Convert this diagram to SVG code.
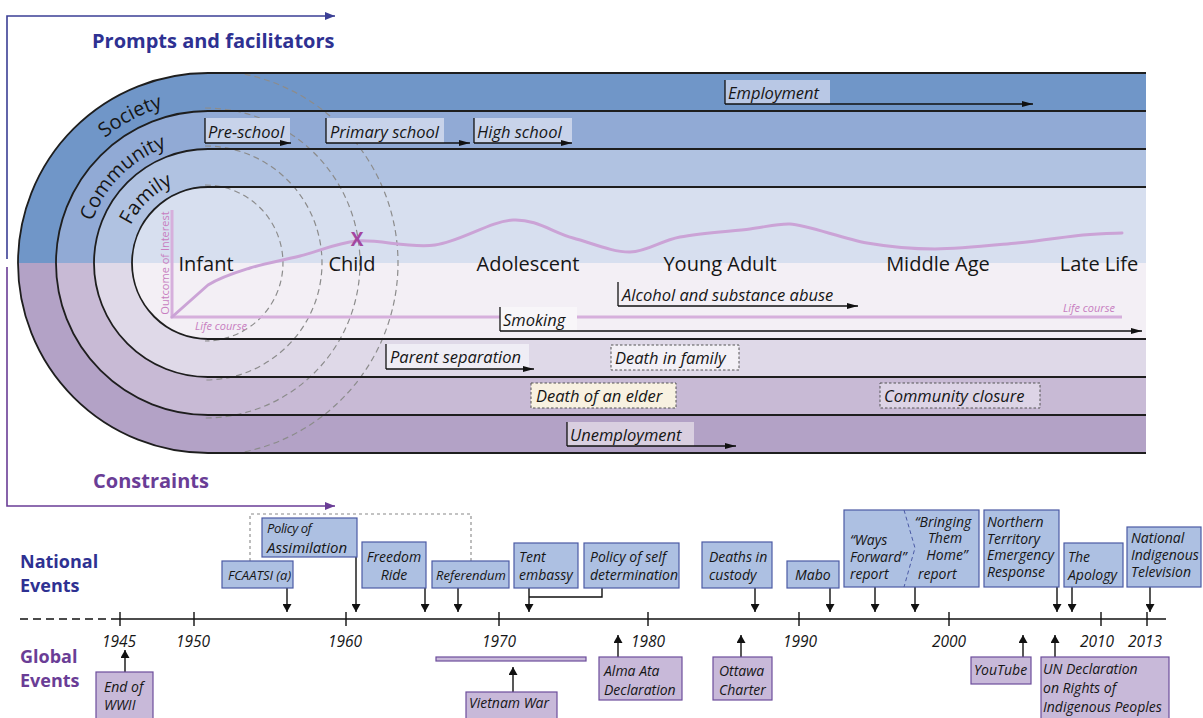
<svg xmlns="http://www.w3.org/2000/svg" width="1203" height="718" viewBox="0 0 1203 718">
<style>
text{font-family:"Open Sans","Noto Sans","DejaVu Sans",sans-serif;fill:#161616}
.ev{font-style:italic;font-size:16.5px}
.tl{font-style:italic;font-size:14px}
.yr{font-style:italic;font-size:15.5px}
.st{font-size:20px}
.rg{font-size:20px}
.hd{font-weight:bold;font-size:20px}
.sd{font-weight:bold;font-size:18px}
.nb{fill:#adc0e2;stroke:#4b5aa5;stroke-width:1.2}
.gb{fill:#c8b9d9;stroke:#6d4d9c;stroke-width:1.2}
.ar{stroke:#111;stroke-width:1.4;fill:none;marker-end:url(#ta)}
.ba{stroke:#111;stroke-width:1.3;fill:none;marker-end:url(#bh)}
.bl{stroke:#111;stroke-width:1.3;fill:none}
.ring{fill:none;stroke:#1e1e1e;stroke-width:1.8}
.dsh{fill:none;stroke:#8c8c8c;stroke-width:1.2;stroke-dasharray:6 4}
.db{stroke:#555;stroke-width:1;stroke-dasharray:2.5 2}
.pk{fill:#c77dc0;font-size:11px}
</style>
<defs>
<marker id="ta" viewBox="0 0 8 9" refX="8" refY="4.5" markerWidth="8" markerHeight="9" markerUnits="userSpaceOnUse" orient="auto"><path d="M0,0 L8,4.5 L0,9 Z" fill="#111"/></marker>
<marker id="bh" viewBox="0 0 11 6" refX="11" refY="3" markerWidth="11" markerHeight="6" markerUnits="userSpaceOnUse" orient="auto"><path d="M0,0 L11,3 L0,6 Z" fill="#111"/></marker>
<marker id="bluh" viewBox="0 0 10 8" refX="10" refY="4" markerWidth="10" markerHeight="8" markerUnits="userSpaceOnUse" orient="auto"><path d="M0,0 L10,4 L0,8 Z" fill="#3b3f95"/></marker>
<marker id="purh" viewBox="0 0 10 8" refX="10" refY="4" markerWidth="10" markerHeight="8" markerUnits="userSpaceOnUse" orient="auto"><path d="M0,0 L10,4 L0,8 Z" fill="#6a3d96"/></marker>
<clipPath id="stad"><path d="M1146,73 H208 A190 190 0 0 0 208,453 H1146 Z"/></clipPath>
<path id="arcS" d="M46,263 A162 162 0 0 1 208,101"/>
<path id="arcC" d="M85,263 A123 123 0 0 1 208,140"/>
<path id="arcF" d="M122,263 A86 86 0 0 1 208,177"/>
</defs>
<rect width="1203" height="718" fill="#fff"/>

<g id="frame-arrows">
<path d="M7,259 V16 H335" fill="none" stroke="#3b3f95" stroke-width="1.6" marker-end="url(#bluh)"/>
<path d="M7,267 V506 H335" fill="none" stroke="#6a3d96" stroke-width="1.6" marker-end="url(#purh)"/>
<text class="hd" x="92" y="48" style="fill:#2e3192">Prompts and facilitators</text>
<text class="hd" x="93" y="488" style="fill:#6a3d96">Constraints</text>
</g>

<g id="bands">
<path d="M1146,73 H208 A190 190 0 0 0 18,263 H1146 Z" fill="#7096c8"/>
<path d="M1146,111 H208 A152 152 0 0 0 56,263 H1146 Z" fill="#91aad5"/>
<path d="M1146,149 H208 A114 114 0 0 0 94,263 H1146 Z" fill="#b0c2e1"/>
<path d="M1146,187 H208 A76 76 0 0 0 132,263 H1146 Z" fill="#d7dfef"/>
<path d="M1146,263 H18 A190 190 0 0 0 208,453 H1146 Z" fill="#b3a2c6"/>
<path d="M1146,263 H56 A152 152 0 0 0 208,415 H1146 Z" fill="#c8bad5"/>
<path d="M1146,263 H94 A114 114 0 0 0 208,377 H1146 Z" fill="#dfd9e8"/>
<path d="M1146,263 H132 A76 76 0 0 0 208,339 H1146 Z" fill="#f3eff5"/>
<g clip-path="url(#stad)">
<path class="dsh" d="M205,185 A78 78 0 0 1 205,341"/>
<path class="dsh" d="M205,146 A117 117 0 0 1 205,380"/>
<path class="dsh" d="M205,108 A155 155 0 0 1 205,418"/>
<path class="dsh" d="M205,70 A193 193 0 0 1 205,456"/>
</g>
<path class="ring" d="M1146,73 H208 A190 190 0 0 0 208,453 H1146"/>
<path class="ring" d="M1146,111 H208 A152 152 0 0 0 208,415 H1146"/>
<path class="ring" d="M1146,149 H208 A114 114 0 0 0 208,377 H1146"/>
<path class="ring" d="M1146,187 H208 A76 76 0 0 0 208,339 H1146"/>
<text class="rg"><textPath href="#arcS" startOffset="69%" text-anchor="middle">Society</textPath></text>
<text class="rg"><textPath href="#arcC" startOffset="50%" text-anchor="middle">Community</textPath></text>
<text class="rg"><textPath href="#arcF" startOffset="51%" text-anchor="middle">Family</textPath></text>
</g>

<g id="chart">
<path d="M172,210 V317 H1122" fill="none" stroke="#d6afdc" stroke-width="3"/>
<path d="M172,317 L208,285 C221,276.8 234.7,272.8 250,268 C265.3,263.2 282.2,260.5 300,256 C317.8,251.5 337,242.8 357,241 C379.5,239.2 409,248.5 435,245 C461,241.5 490,221.2 513,220 C536,218.8 553.5,232.7 573,238 C592.5,243.3 612.2,252.2 630,252 C647.8,251.8 660,240.8 680,237 C700,233.2 731.7,231.2 750,229 C765,227.2 776,223.6 790,224 C806,224.5 842.8,238.8 867,243 C891.2,247.2 910,249 935,249 C960,249 992.3,245.3 1017,243 C1041.7,240.7 1065.5,236.7 1083,235 C1100.5,233.3 1115.5,233.3 1122,233" fill="none" stroke="#cba3d6" stroke-width="3" stroke-linejoin="round" stroke-linecap="round"/>
<text class="pk" transform="translate(169,263) rotate(-90)" text-anchor="middle" style="fill:#c77dc0">Outcome of Interest</text>
<text class="pk" x="195" y="330" font-style="italic" style="fill:#c77dc0">Life course</text>
<text class="pk" x="1063" y="312" font-style="italic" style="fill:#c77dc0">Life course</text>
<text x="357" y="246" text-anchor="middle" font-weight="bold" font-size="19" style="fill:#a3479f">X</text>
</g>

<g id="stages">
<text class="st" x="206" y="271" text-anchor="middle">Infant</text>
<text class="st" x="352" y="271" text-anchor="middle">Child</text>
<text class="st" x="528" y="271" text-anchor="middle">Adolescent</text>
<text class="st" x="720" y="271" text-anchor="middle">Young Adult</text>
<text class="st" x="938" y="271" text-anchor="middle">Middle Age</text>
<text class="st" x="1099" y="271" text-anchor="middle">Late Life</text>
</g>

<g id="ev-employment">
<rect x="725" y="80" width="105" height="24" fill="#b9c8e5"/>
<path class="bl" d="M725,80 V104"/><path class="ba" d="M725,104 H1033"/>
<text class="ev" x="728" y="99">Employment</text>
</g>
<g id="ev-preschool">
<rect x="205" y="118" width="85" height="25" fill="#c8d3ea"/>
<path class="bl" d="M205,118 V143"/><path class="ba" d="M205,143 H291"/>
<text class="ev" x="208" y="138">Pre-school</text>
</g>
<g id="ev-primary">
<rect x="326" y="118" width="118" height="25" fill="#c8d3ea"/>
<path class="bl" d="M326,118 V143"/><path class="ba" d="M326,143 H470"/>
<text class="ev" x="330" y="138">Primary school</text>
</g>
<g id="ev-high">
<rect x="474" y="118" width="98" height="25" fill="#c8d3ea"/>
<path class="bl" d="M474,118 V143"/><path class="ba" d="M474,143 H572"/>
<text class="ev" x="477" y="138">High school</text>
</g>
<g id="ev-alcohol">
<path class="bl" d="M618,282 V306"/><path class="ba" d="M618,306 H858"/>
<text class="ev" x="622" y="301">Alcohol and substance abuse</text>
</g>
<g id="ev-smoking">
<rect x="500" y="307" width="77" height="24" fill="#f8f6f9"/>
<path class="bl" d="M500,307 V331"/><path class="ba" d="M500,331 H1142"/>
<text class="ev" x="503" y="326">Smoking</text>
</g>
<g id="ev-parent">
<rect x="386" y="344" width="143" height="25" fill="#efedf5"/>
<path class="bl" d="M386,344 V369"/><path class="ba" d="M386,369 H534"/>
<text class="ev" x="390" y="363">Parent separation</text>
</g>
<g id="ev-deathfamily">
<rect class="db" x="611" y="345" width="128" height="25" fill="#f3f0f6"/>
<text class="ev" x="615" y="364">Death in family</text>
</g>
<g id="ev-elder">
<rect class="db" x="531" y="383" width="145" height="25" fill="#f8f1e1"/>
<text class="ev" x="536" y="402">Death of an elder</text>
</g>
<g id="ev-closure">
<rect class="db" x="880" y="383" width="160" height="25" fill="#ddd4e6"/>
<text class="ev" x="884" y="402">Community closure</text>
</g>
<g id="ev-unemployment">
<rect x="567" y="422" width="127" height="24" fill="#d9cfe0"/>
<path class="bl" d="M567,422 V446"/><path class="ba" d="M567,446 H736"/>
<text class="ev" x="570" y="441">Unemployment</text>
</g>

<g id="timeline-axis">
<path d="M20,619 H118" stroke="#111" stroke-width="1.5" stroke-dasharray="8 5"/>
<path d="M118,619 H1166" stroke="#111" stroke-width="1.5"/>
<path d="M120,612 V626 M194,612 V626 M346,612 V626 M499,612 V626 M648,612 V626 M799,612 V626 M949,612 V626 M1101,612 V626 M1147,612 V626" stroke="#111" stroke-width="1.4"/>
<text class="yr" x="119" y="647" text-anchor="middle">1945</text>
<text class="yr" x="193" y="647" text-anchor="middle">1950</text>
<text class="yr" x="345" y="647" text-anchor="middle">1960</text>
<text class="yr" x="499" y="647" text-anchor="middle">1970</text>
<text class="yr" x="648" y="647" text-anchor="middle">1980</text>
<text class="yr" x="800" y="647" text-anchor="middle">1990</text>
<text class="yr" x="949" y="647" text-anchor="middle">2000</text>
<text class="yr" x="1097" y="647" text-anchor="middle">2010</text>
<text class="yr" x="1145" y="647" text-anchor="middle">2013</text>
<text class="sd" x="20" y="568" style="fill:#2e3192">National</text>
<text class="sd" x="20" y="592" style="fill:#2e3192">Events</text>
<text class="sd" x="20" y="663" style="fill:#6a3d96">Global</text>
<text class="sd" x="20" y="687" style="fill:#6a3d96">Events</text>
</g>

<g id="connectors">
<path d="M250,561 V514 H471 V561" fill="none" stroke="#888" stroke-width="1.1" stroke-dasharray="3 3"/>
<path class="ar" d="M287,588 V612"/>
<path class="ar" d="M356,557 V612"/>
<path class="ar" d="M425,588 V612"/>
<path class="ar" d="M458,588 V612"/>
<path class="ar" d="M529,588 V612"/>
<path d="M602,588 V597 H529" fill="none" stroke="#111" stroke-width="1.4"/>
<path class="ar" d="M755,588 V612"/>
<path class="ar" d="M830,588 V612"/>
<path class="ar" d="M875,587 V612"/>
<path class="ar" d="M915,587 V612"/>
<path class="ar" d="M1057,587 V612"/>
<path class="ar" d="M1072,587 V612"/>
<path class="ar" d="M1150,587 V612"/>
<path class="ar" d="M125,672 V650"/>
<path class="ar" d="M513,692 V667"/>
<path class="ar" d="M618,657 V635"/>
<path class="ar" d="M741,657 V635"/>
<path class="ar" d="M1023,657 V635"/>
<path class="ar" d="M1055,657 V635"/>
</g>

<g id="n-fcaatsi"><rect class="nb" x="222" y="561" width="71" height="27"/><text class="tl" x="228" y="580" style="font-size:13px">FCAATSI (a)</text></g>
<g id="n-assimilation"><rect class="nb" x="262" y="518" width="95" height="39"/><text class="tl" x="267" y="533" style="font-size:13px" letter-spacing="-0.4">Policy of</text><text class="tl" x="267" y="553" style="font-size:15px">Assimilation</text></g>
<g id="n-freedom"><rect class="nb" x="362" y="542" width="64" height="46"/><text class="tl" x="394" y="562" text-anchor="middle">Freedom</text><text class="tl" x="394" y="580" text-anchor="middle">Ride</text></g>
<g id="n-referendum"><rect class="nb" x="432" y="561" width="77" height="27"/><text class="tl" x="436" y="580" style="font-size:13px">Referendum</text></g>
<g id="n-tent"><rect class="nb" x="514" y="543" width="64" height="45"/><text class="tl" x="519" y="562">Tent</text><text class="tl" x="519" y="580">embassy</text></g>
<g id="n-selfdet"><rect class="nb" x="584" y="543" width="95" height="45"/><text class="tl" x="590" y="562">Policy of self</text><text class="tl" x="590" y="580">determination</text></g>
<g id="n-custody"><rect class="nb" x="702" y="542" width="70" height="46"/><text class="tl" x="709" y="562">Deaths in</text><text class="tl" x="709" y="580">custody</text></g>
<g id="n-mabo"><rect class="nb" x="787" y="561" width="52" height="27"/><text class="tl" x="795" y="580">Mabo</text></g>
<g id="n-reports"><rect class="nb" x="844" y="510" width="135" height="77"/><path d="M904,510 L915,548 L904,587" fill="none" stroke="#4b5aa5" stroke-width="1" stroke-dasharray="4 3"/><text class="tl" x="850" y="545">“Ways</text><text class="tl" x="850" y="562">Forward”</text><text class="tl" x="850" y="579">report</text><text class="tl" x="943" y="527" text-anchor="middle">“Bringing</text><text class="tl" x="945" y="543" text-anchor="middle">Them</text><text class="tl" x="947" y="560" text-anchor="middle">Home”</text><text class="tl" x="918" y="579">report</text></g>
<g id="n-nter"><rect class="nb" x="984" y="510" width="75" height="77"/><text class="tl" x="987" y="527">Northern</text><text class="tl" x="987" y="544">Territory</text><text class="tl" x="987" y="560">Emergency</text><text class="tl" x="987" y="577">Response</text></g>
<g id="n-apology"><rect class="nb" x="1064" y="543" width="59" height="44"/><text class="tl" x="1068" y="562">The</text><text class="tl" x="1068" y="580">Apology</text></g>
<g id="n-nitv"><rect class="nb" x="1127" y="527" width="74" height="60"/><text class="tl" x="1131" y="543">National</text><text class="tl" x="1131" y="560">Indigenous</text><text class="tl" x="1131" y="577">Television</text></g>

<g id="g-wwii"><rect class="gb" x="96" y="672" width="57" height="50"/><text class="tl" x="104" y="692">End of</text><text class="tl" x="104" y="710">WWII</text></g>
<g id="g-vietnam"><rect class="gb" x="436" y="657" width="150" height="4"/><rect class="gb" x="466" y="692" width="91" height="30"/><text class="tl" x="469" y="708">Vietnam War</text></g>
<g id="g-almaata"><rect class="gb" x="599" y="657" width="83" height="43"/><text class="tl" x="604" y="676">Alma Ata</text><text class="tl" x="604" y="695">Declaration</text></g>
<g id="g-ottawa"><rect class="gb" x="713" y="657" width="59" height="43"/><text class="tl" x="719" y="676">Ottawa</text><text class="tl" x="719" y="695">Charter</text></g>
<g id="g-youtube"><rect class="gb" x="971" y="657" width="60" height="27"/><text class="tl" x="974" y="675">YouTube</text></g>
<g id="g-undrip"><rect class="gb" x="1041" y="657" width="128" height="65"/><text class="tl" x="1043" y="674">UN Declaration</text><text class="tl" x="1043" y="693">on Rights of</text><text class="tl" x="1043" y="712">Indigenous Peoples</text></g>
</svg>
